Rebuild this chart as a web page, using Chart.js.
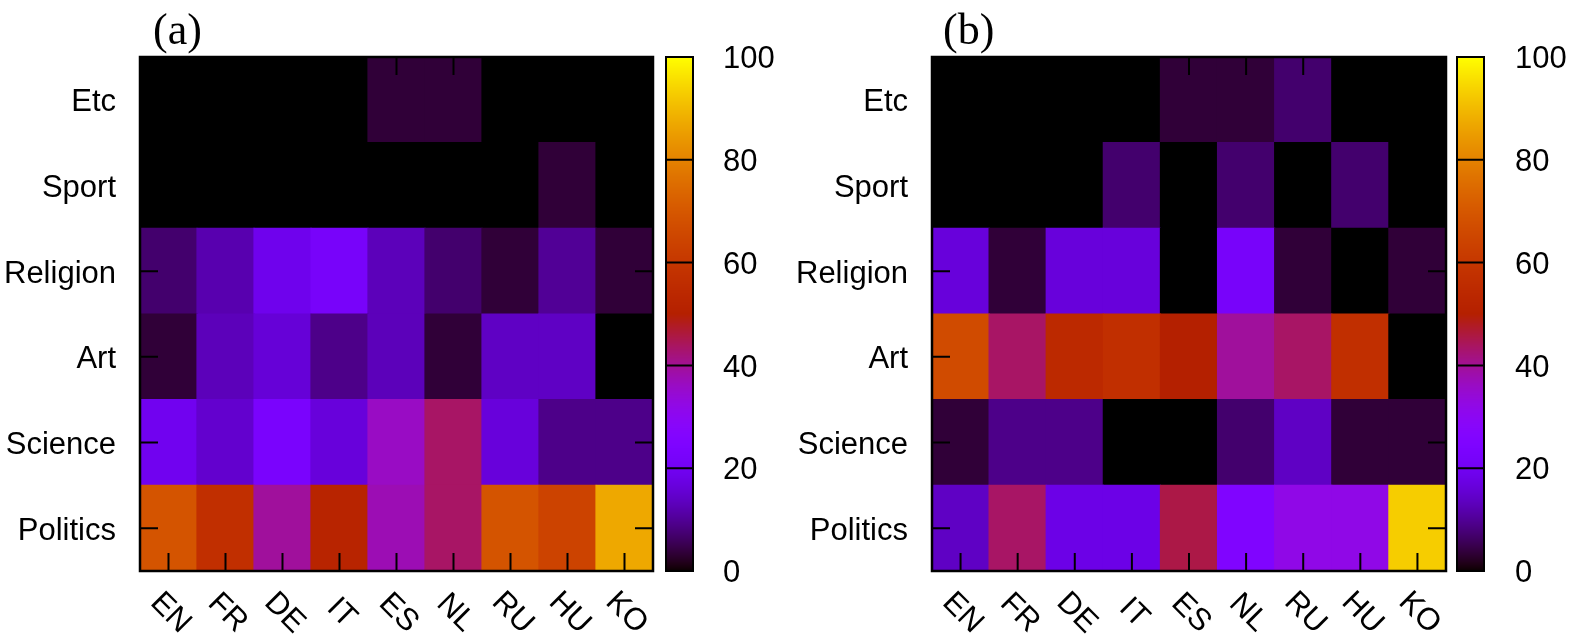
<!DOCTYPE html>
<html><head><meta charset="utf-8">
<script src="https://cdn.jsdelivr.net/npm/chart.js@4.4.1/dist/chart.umd.min.js"></script>
<style>
html,body{margin:0;padding:0;background:#fff;width:1575px;height:637px;overflow:hidden}
canvas{position:absolute;left:0;top:0}
</style></head><body>
<canvas id="chartA" width="1575" height="637"></canvas>
<canvas id="chartB" width="1575" height="637"></canvas>
<script>
// categories
const langs = ['EN','FR','DE','IT','ES','NL','RU','HU','KO'];
const topics = ['Politics','Science','Art','Religion','Sport','Etc']; // bottom to top
const cbTicks = [0,20,40,60,80,100];

// panel (a) values (%)
const aEtc      = [0,0,0,0,3.5,3.5,0,0,0];
const aSport    = [0,0,0,0,0,0,0,3.5,0];
const aReligion = [7,12,19,22,13,7,3.5,10,3.5];
const aArt      = [3.5,13,16,9,13,3.5,14,14,0];
const aScience  = [19.5,15,23,16.5,36,43.5,16.5,9,9];
const aPolitics = [69,57,39.5,52,37.5,43.5,69,64,87];

// panel (b) values (%)
const bEtc      = [0,0,0,0,3.5,3.5,7,0,0];
const bSport    = [0,0,0,7,0,7,0,7,0];
const bReligion = [16.5,3.5,16.5,16.5,0,22,3.5,0,3.5];
const bArt      = [66.5,43.5,54.5,57,50,39.5,43.5,57,0];
const bScience  = [3.5,9,9,0,0,7,14,3.5,3.5];
const bPolitics = [14,43.5,18,18,45.5,25,32,32,93];

Chart.defaults.font.family = '"Liberation Sans", Arial, sans-serif';
Chart.defaults.color = '#000';

function palette(v){
  const x = Math.max(0, Math.min(1, v/100));
  const r = Math.sqrt(x), g = x*x*x, b = Math.max(0, Math.sin(2*Math.PI*x));
  return 'rgb(' + Math.round(r*255) + ',' + Math.round(g*255) + ',' + Math.round(b*255) + ')';
}

function zeroPad(s){ s.paddingTop = 0; s.paddingBottom = 0; s.paddingLeft = 0; s.paddingRight = 0; }

function makePanel(id, title, rows, geo){
  const datasets = rows.map((vals, r) => ({
    label: topics[r],
    data: langs.map(() => [r, r+1]),
    backgroundColor: vals.map(palette),
    borderWidth: 0,
    inflateAmount: 0.6,
    grouped: false,
    barPercentage: 1,
    categoryPercentage: 1
  }));
  const deco = {
    id: 'deco'+id,
    afterDraw(chart){
      const ctx = chart.ctx, ca = chart.chartArea;
      const xs = chart.scales.x, ys = chart.scales.y, cb = chart.scales.cb;
      ctx.save();
      // ticks
      ctx.strokeStyle = '#000'; ctx.lineWidth = 2;
      ctx.beginPath();
      langs.forEach((l, i) => {
        const x = xs.getPixelForValue(i);
        ctx.moveTo(x, ca.bottom); ctx.lineTo(x, ca.bottom - 18);
        ctx.moveTo(x, ca.top); ctx.lineTo(x, ca.top + 18);
      });
      topics.forEach((t, i) => {
        const y = ys.getPixelForValue(i + 0.5);
        ctx.moveTo(ca.left, y); ctx.lineTo(ca.left + 18, y);
        ctx.moveTo(ca.right, y); ctx.lineTo(ca.right - 18, y);
      });
      ctx.stroke();
      // frame
      ctx.lineWidth = 2.5;
      ctx.strokeRect(ca.left, ca.top, ca.right - ca.left, ca.bottom - ca.top);
      // colorbar
      const yTop = cb.getPixelForValue(100), yBot = cb.getPixelForValue(0);
      for (let y = Math.floor(yTop); y < Math.ceil(yBot); y++){
        ctx.fillStyle = palette(cb.getValueForPixel(y + 0.5));
        ctx.fillRect(geo.cbLeft, y, geo.cbRight - geo.cbLeft, 1);
      }
      ctx.lineWidth = 2;
      ctx.beginPath();
      cbTicks.slice(1, -1).forEach(v => {
        const y = cb.getPixelForValue(v);
        ctx.moveTo(geo.cbLeft, y); ctx.lineTo(geo.cbRight, y);
      });
      ctx.stroke();
      ctx.strokeRect(geo.cbLeft, yTop, geo.cbRight - geo.cbLeft, yBot - yTop);
      // x labels rotated
      ctx.fillStyle = '#000';
      ctx.font = '31px "Liberation Sans", Arial, sans-serif';
      ctx.textAlign = 'center'; ctx.textBaseline = 'middle';
      langs.forEach((l, i) => {
        const x = xs.getPixelForValue(i);
        ctx.save();
        ctx.translate(x + 2, ca.bottom + 42);
        ctx.rotate(Math.PI / 4);
        ctx.fillText(l, 0, 0);
        ctx.restore();
      });
      // title
      ctx.font = '44px "Liberation Serif", "Times New Roman", serif';
      ctx.textAlign = 'left'; ctx.textBaseline = 'alphabetic';
      ctx.fillText(title, geo.titleX, 44);
      ctx.restore();
    }
  };
  return new Chart(document.getElementById(id), {
    type: 'bar',
    data: { labels: langs, datasets },
    options: {
      responsive: false,
      animation: false,
      devicePixelRatio: 1,
      layout: { padding: { top: 57, left: 0, right: 0, bottom: 0 } },
      plugins: { legend: { display: false }, tooltip: { enabled: false }, title: { display: false } },
      scales: {
        x: {
          type: 'category',
          grid: { display: false, drawTicks: false },
          border: { display: false },
          ticks: { display: false },
          afterFit(s){ s.height = 637 - 571; zeroPad(s); }
        },
        y: {
          type: 'linear', position: 'left', min: 0, max: 6,
          grid: { display: false, drawTicks: false },
          border: { display: false },
          afterBuildTicks(s){ s.ticks = topics.map((t, i) => ({ value: i + 0.5 - 0.035 })); },
          ticks: {
            autoSkip: false, padding: 24,
            font: { size: 31 }, color: '#000',
            callback: (v, i) => topics[i]
          },
          afterFit(s){ s.width = geo.left; zeroPad(s); }
        },
        cb: {
          type: 'linear', position: 'right', min: 0, max: 100, display: true,
          grid: { display: false, drawTicks: false },
          border: { display: false },
          afterBuildTicks(s){ s.ticks = cbTicks.map(v => ({ value: v - 0.5 })); },
          ticks: { padding: geo.cbPad, font: { size: 31 }, color: '#000', autoSkip: false,
                   callback: (v, i) => String(cbTicks[i]) },
          afterFit(s){ s.width = 1575 - geo.right; zeroPad(s); }
        }
      }
    },
    plugins: [deco]
  });
}

makePanel('chartA', '(a)', [aPolitics, aScience, aArt, aReligion, aSport, aEtc],
  { left: 140, right: 653, cbLeft: 666, cbRight: 693, cbPad: 70, titleX: 153 });
makePanel('chartB', '(b)', [bPolitics, bScience, bArt, bReligion, bSport, bEtc],
  { left: 932, right: 1446, cbLeft: 1457, cbRight: 1484, cbPad: 69, titleX: 943 });
</script>
</body></html>
